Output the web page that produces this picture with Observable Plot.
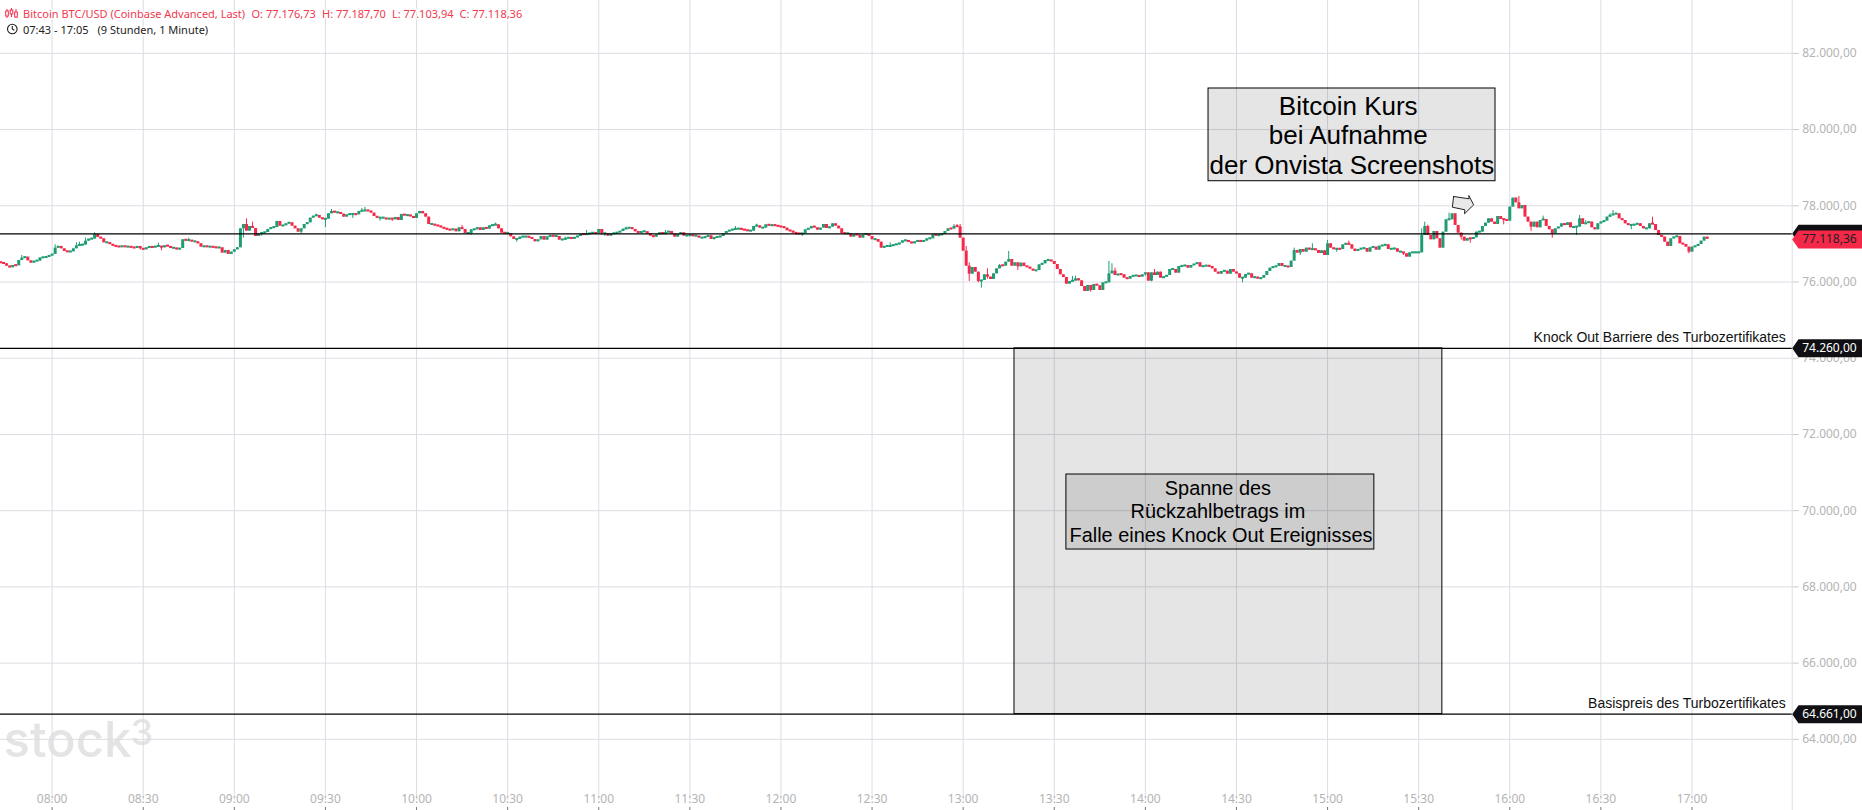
<!DOCTYPE html>
<html lang="de">
<head>
<meta charset="utf-8">
<style>html,body{margin:0;padding:0;background:#fff;overflow:hidden}svg{display:block}</style>
<script src="https://cdn.jsdelivr.net/npm/d3@7"></script>
<script src="https://cdn.jsdelivr.net/npm/@observablehq/plot@0.6"></script>
</head>
<body>
<div id="chart"></div>
<script>
const startMinute = 463;
const firstOpen = 76520;
const closes = [
76495,76478,76416,76373,76434,76425,76565,76626,76653,76556,76495,76548,76548,76635,76635,76653,76688,76723,76889,76933,76871,76801,76784,76793,76871,76950,76968,76968,77073,77125,77125,77248,77169,77134,77029,77029,76985,76941,76924,76915,76933,76915,76915,76906,76880,76933,76871,76845,76898,76915,76898,76933,76933,76898,76950,76933,76880,76889,76845,76880,77108,77081,77090,77055,77055,77003,76915,76933,76915,76915,76906,76889,76898,76758,76828,76723,76784,76845,76898,77396,77510,77335,77458,77405,77195,77265,77283,77300,77379,77423,77431,77589,77466,77475,
77528,77554,77466,77396,77309,77396,77510,77554,77676,77729,77746,77676,77641,77650,77790,77851,77816,77816,77781,77703,77764,77773,77773,77764,77851,77860,77869,77860,77808,77720,77676,77676,77676,77633,77668,77633,77694,77615,77773,77738,77746,77720,77668,77790,77851,77790,77703,77510,77510,77475,77466,77423,77396,77370,77353,77388,77318,77423,77379,77274,77274,77370,77370,77423,77353,77423,77388,77475,77484,77501,77396,77283,77274,77274,77186,77116,77116,77178,77178,77178,77169,77116,77055,77108,77195,77099,77186,77204,77195,77195,77099,77108,77134,77160,
77125,77169,77195,77248,77239,77248,77274,77283,77265,77379,77265,77265,77204,77256,77274,77291,77326,77388,77396,77423,77379,77318,77283,77318,77318,77265,77204,77178,77239,77291,77248,77291,77326,77256,77178,77248,77291,77204,77213,77221,77204,77204,77151,77151,77178,77213,77116,77169,77169,77195,77265,77326,77344,77379,77379,77396,77370,77353,77335,77335,77458,77475,77414,77414,77501,77475,77484,77475,77449,77440,77414,77344,77335,77283,77265,77256,77265,77370,77396,77458,77423,77361,77414,77510,77405,77440,77528,77466,77396,77274,77265,77265,77178,77239,
77230,77151,77239,77256,77195,77108,77116,77046,76889,76933,76933,76933,76976,76976,77020,77081,77081,77046,77003,77055,77073,77055,77073,77134,77134,77239,77213,77221,77256,77326,77396,77388,77458,77449,77151,76810,76416,76206,76381,76259,76014,76040,76189,76128,76066,76215,76346,76434,76416,76521,76591,76416,76504,76399,76495,76408,76390,76338,76285,76303,76451,76478,76565,76565,76539,76460,76329,76189,76119,75944,76014,76023,76084,76031,75883,75751,75909,75778,75935,75900,75778,75979,75979,76215,76285,76171,76198,76189,76101,76075,76145,76154,76163,76128,
76189,76241,76023,76241,76171,76259,76101,76128,76171,76329,76329,76233,76408,76408,76434,76364,76434,76460,76504,76390,76416,76416,76408,76346,76259,76206,76276,76285,76206,76329,76259,76215,76101,76101,76198,76215,76101,76128,76075,76101,76171,76276,76364,76390,76408,76486,76408,76408,76381,76548,76828,76758,76854,76784,76889,76836,76863,76828,76749,76819,76696,77003,76889,76854,76863,76854,76976,77003,76976,76863,76801,76854,76871,76880,76784,76898,76915,76836,76941,76950,76976,76854,76863,76871,76784,76784,76740,76653,76766,76766,76766,76766,77221,
77458,77221,77108,77326,77134,76889,77309,77633,77633,77790,77484,77283,77178,77073,77143,77125,77160,77309,77309,77458,77545,77659,77571,77510,77720,77641,77633,77598,77965,78201,78079,77921,78009,77703,77571,77440,77571,77423,77615,77641,77458,77370,77265,77396,77440,77528,77484,77554,77423,77440,77440,77659,77510,77545,77571,77423,77370,77528,77571,77598,77703,77746,77773,77790,77659,77615,77528,77484,77484,77501,77528,77458,77396,77396,77528,77510,77353,77221,77178,77046,76933,77134,77178,77195,77003,76985,76915,76784,76915,76933,76985,77073,77178,77118.36
];
const highWicks = [[7,76696],[18,76976],[25,77029],[26,77046],[28,77151],[31,77291],[52,77020],[62,77151],[81,77659],[83,77571],
[104,77780],[109,77904],[119,77930],[120,77956],[152,77484],[163,77545],[166,77300],[186,77178],
[193,77353],[206,77440],[219,77353],[242,77458],[249,77518],[255,77510],
[293,77029],[314,77510],[315,77510],[316,77510],[318,76933],[319,76504],[325,76346],[329,76460],[332,76801],[353,76145],[354,76154],[365,76539],[366,76478],[367,76363],
[380,76329],[404,76285],[426,76889],[432,77003],[437,77090],[444,77073],[468,77396],[469,77571],
[470,77490],[477,77808],[499,78210],[500,78245],[508,77729],[520,77746],[522,77610],[530,77790],[531,77878],[540,77520],[544,77700]];
const lowWicks = [[46,76840],[53,76820],[80,77151],[84,77265],[86,77204],
[99,77265],[107,77430],[116,77670],[125,77600],[129,77590],[155,77225],[170,77046],
[198,77220],[199,77195],[235,77100],[262,77221],[264,77195],
[319,76014],[320,76206],[322,75979],[323,75839],[325,76080],[335,76303],[359,75734],[360,75830],
[377,76150],[379,76006],[409,75979],[428,76696],[440,76784],[462,76696],
[481,77100],[484,77020],[495,77500],[504,77330],[511,77151],[519,77221],[537,77370],[556,76740]];
const priceTicks = [64000,66000,68000,70000,72000,74000,76000,78000,80000,82000];
const timeTicks = [480,510,540,570,600,630,660,690,720,750,780,810,840,870,900,930,960,990,1020];
const currentLine = 77265;
const knockOut = 74260;
const basePrice = 64661;
const lastPrice = 77118.36;
const xDomain = [463,1053];
const yDomain = [62133,83387];
const gridFloor = 62400;
const xTickTop = 62212;
const headerLabels = ["Bitcoin BTC/USD (Coinbase Advanced, Last)","O: 77.176,73","H: 77.187,70","L: 77.103,94","C: 77.118,36"];
const headerOffsets = [22.5,251,321.5,391.5,459];
const kursBox = {x1:860.8,x2:955.3,y1:78645,y2:81078};
const spanBox = {x1:796.9,x2:937.8,y1:basePrice,y2:knockOut};
const spanLabelBox = {x1:814,x2:915.4,y1:68981,y2:70949};
const kursLines = ["Bitcoin Kurs","bei Aufnahme","der Onvista Screenshots"];
const kursLineTimes = [906.8,906.8,908];
const kursLinePrices = [80614,79834,79054];
const spanLines = ["Spanne des","Rückzahlbetrags im","Falle eines Knock Out Ereignisses"];
const spanLineTimes = [863.9,863.9,864.9];
const spanLinePrices = [70590,69965,69340];
const arrowTimes = [941.5,946.6,946.5,948.1,945.1,945.2,941.1,941.5];
const arrowPrices = [78244,78184,78270,78026,77790,77895,77963,78244];

const green = "#1f9d72", red = "#f42849", grid = "#dcdde4", axisText = "#b4b4b4";
const sans = "Liberation Sans";
const ui = "Noto Sans";

const highMap = new Map(highWicks), lowMap = new Map(lowWicks);
const candles = closes.map((c,i)=>{
  const o = i ? closes[i-1] : firstOpen;
  const top = Math.max(o,c), bottom = Math.min(o,c), minBody = 55;
  const grow = Math.max(0,(minBody-(top-bottom))/2);
  return {t:startMinute+i,o,c,
    bodyTop:top+grow,bodyBottom:bottom-grow,
    hi:Math.max(o,c,highMap.get(i) ?? 0),
    lo:Math.min(o,c,lowMap.get(i) ?? 1e9),
    col:c>=o?green:red};
});
const pad = n=>String(n).padStart(2,"0");
const fmtTime = m=>pad(Math.floor(m/60))+":"+pad(m%60);
const fmtPrice = v=>v.toLocaleString("de-DE",{minimumFractionDigits:2,maximumFractionDigits:2});

const tagSymbol = {draw(ctx){ctx.moveTo(0,0);ctx.lineTo(6.3,-9);ctx.lineTo(71,-9);ctx.lineTo(71,9);ctx.lineTo(6.3,9);ctx.closePath();}};

const icons = () => {
  const g = d3.create("svg:g").attr("fill","none");
  const r = g.append("g").attr("stroke",red).attr("stroke-width",1);
  [[7,9,18,11,16],[11.5,8,17,10,14],[16,9,18,12,17]].forEach(([x,a,b,c,d])=>{
    r.append("path").attr("d",`M${x},${a}V${b}`);
    r.append("rect").attr("x",x-1.3).attr("y",c).attr("width",2.6).attr("height",d-c).attr("fill","#fff");
  });
  const k = g.append("g").attr("stroke","#222").attr("stroke-width",1.1);
  k.append("circle").attr("cx",12.3).attr("cy",29).attr("r",4.8);
  k.append("path").attr("d","M12.3,26V29L14.3,30.3");
  return g.node();
};

const chart = Plot.plot({
  width:1862,height:810,marginLeft:0,marginRight:70.3,marginTop:0,marginBottom:0,
  style:{fontFamily:ui,background:"#fff"},
  x:{domain:xDomain,axis:null},
  y:{domain:yDomain,axis:null},
  color:{type:"identity"},
  marks:[
    Plot.text(["stock"],{frameAnchor:"bottom-left",dx:3,dy:-53.5,lineAnchor:"bottom",fontFamily:"Inter",fontWeight:500,fontSize:49,fill:"#e4e4e4"}),
    Plot.text(["3"],{frameAnchor:"bottom-left",dx:130,dy:-65.5,lineAnchor:"bottom",fontFamily:"Inter",fontWeight:500,fontSize:36,fill:"#e4e4e4"}),
    Plot.ruleY(priceTicks,{stroke:grid,strokeWidth:1}),
    Plot.ruleX(timeTicks,{y1:yDomain[1],y2:gridFloor,stroke:grid,strokeWidth:1}),
    Plot.ruleX([xDomain[1]],{stroke:grid,strokeWidth:1}),
    Plot.ruleX(timeTicks,{y1:yDomain[0],y2:xTickTop,stroke:"#777",strokeWidth:1}),
    Plot.rect([spanBox],{x1:"x1",x2:"x2",y1:"y1",y2:"y2",fill:"#000",fillOpacity:0.1}),
    Plot.rect([spanLabelBox],{x1:"x1",x2:"x2",y1:"y1",y2:"y2",fill:"#000",fillOpacity:0.1,stroke:"#000",strokeWidth:1}),
    Plot.rect([spanBox],{x1:"x1",x2:"x2",y1:"y1",y2:"y2",stroke:"#000",strokeWidth:1,fill:"none"}),
    Plot.ruleX(candles,{x:"t",y1:"lo",y2:"hi",stroke:"col",strokeWidth:1}),
    Plot.ruleX(candles,{x:"t",y1:"bodyBottom",y2:"bodyTop",stroke:"col",strokeWidth:3}),
    Plot.ruleY([currentLine,knockOut,basePrice],{stroke:"#000",strokeWidth:1.2}),
    Plot.rect([kursBox],{x1:"x1",x2:"x2",y1:"y1",y2:"y2",fill:"#000",fillOpacity:0.1,stroke:"#000",strokeWidth:1}),
    Plot.text(kursLines,{x:(d,i)=>kursLineTimes[i],y:(d,i)=>kursLinePrices[i],fontFamily:sans,fontSize:26,fill:"#000"}),
    Plot.text(spanLines,{x:(d,i)=>spanLineTimes[i],y:(d,i)=>spanLinePrices[i],fontFamily:sans,fontSize:19.9,fill:"#000"}),
    Plot.line(arrowTimes.map((t,i)=>({t,p:arrowPrices[i]})),{x:"t",y:"p",fill:"#e8e8e8",stroke:"#222",strokeWidth:1}),
    Plot.text(["Knock Out Barriere des Turbozertifikates"],{x:xDomain[1],y:knockOut,dx:-6.5,dy:-10.5,textAnchor:"end",fontFamily:sans,fontSize:14,fill:"#111"}),
    Plot.text(["Basispreis des Turbozertifikates"],{x:xDomain[1],y:basePrice,dx:-6.5,dy:-10.5,textAnchor:"end",fontFamily:sans,fontSize:14,fill:"#111"}),
    Plot.axisY({anchor:"right",ticks:priceTicks,tickFormat:fmtPrice,tickSize:6,tickPadding:4,fontSize:12,fill:axisText,stroke:"#c8c8c8",label:null}),
    Plot.axisX({anchor:"bottom",ticks:timeTicks,tickFormat:fmtTime,tickSize:0,tickPadding:0,dy:-16,fontSize:12,fill:axisText,label:null}),
    Plot.dot([currentLine],{x:()=>xDomain[1],y:d=>d,symbol:tagSymbol,r:5,fill:"#101014"}),
    Plot.dot([knockOut,basePrice],{x:()=>xDomain[1],y:d=>d,symbol:tagSymbol,r:5,fill:"#101014"}),
    Plot.dot([lastPrice],{x:()=>xDomain[1],y:d=>d,symbol:tagSymbol,r:5,fill:red}),
    Plot.text([knockOut,basePrice],{x:()=>xDomain[1],y:d=>d,text:fmtPrice,dx:10,textAnchor:"start",fontSize:12,fill:"#fff"}),
    Plot.text([lastPrice],{x:()=>xDomain[1],y:d=>d,text:fmtPrice,dx:10,textAnchor:"start",fontSize:12,fill:"#222"}),
    ...headerLabels.map((s,i)=>Plot.text([s],{frameAnchor:"top-left",dx:headerOffsets[i],dy:9.5,lineAnchor:"top",fontSize:11,fill:"#f0384f",stroke:"#fff",strokeWidth:3,paintOrder:"stroke"})),
    Plot.text(["07:43 - 17:05"],{frameAnchor:"top-left",dx:22.5,dy:26,lineAnchor:"top",fontSize:11,fill:"#222",stroke:"#fff",strokeWidth:3,paintOrder:"stroke"}),
    Plot.text(["(9 Stunden, 1 Minute)"],{frameAnchor:"top-left",dx:97,dy:26,lineAnchor:"top",fontSize:11,fill:"#222",stroke:"#fff",strokeWidth:3,paintOrder:"stroke"}),
    icons
  ]
});
document.getElementById("chart").append(chart);
</script>
</body>
</html>
